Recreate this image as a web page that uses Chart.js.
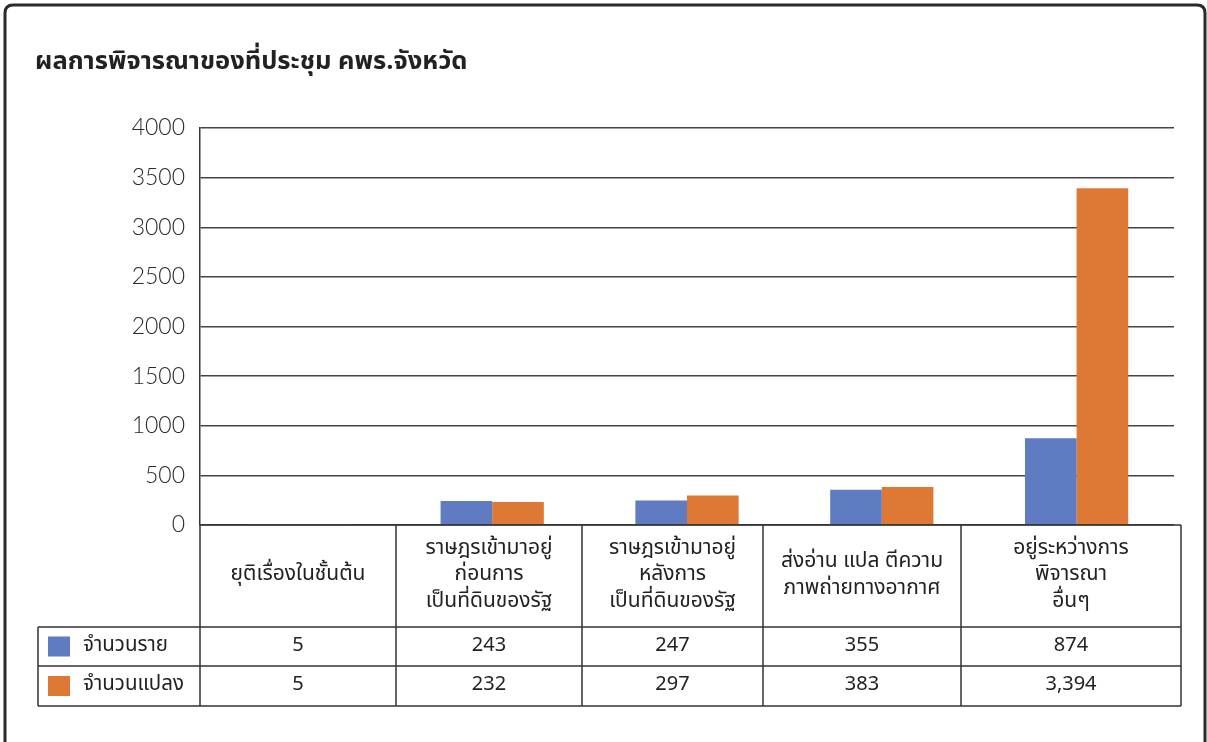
<!DOCTYPE html>
<html>
<head>
<meta charset="utf-8">
<script src="https://cdn.jsdelivr.net/npm/chart.js@4.4.0/dist/chart.umd.min.js"></script>
<style>
  html, body { margin: 0; padding: 0; background: #fff; }
  #wrap { width: 1207px; height: 742px; position: relative; }
</style>
</head>
<body>
<div id="wrap"><canvas id="c" width="1207" height="742"></canvas></div>
<script>
const title = 'ผลการพิจารณาของที่ประชุม คพร.จังหวัด';
const categories = [
  ['ยุติเรื่องในชั้นต้น'],
  ['ราษฎรเข้ามาอยู่', 'ก่อนการ', 'เป็นที่ดินของรัฐ'],
  ['ราษฎรเข้ามาอยู่', 'หลังการ', 'เป็นที่ดินของรัฐ'],
  ['ส่งอ่าน แปล ตีความ', 'ภาพถ่ายทางอากาศ'],
  ['อยู่ระหว่างการ', 'พิจารณา', 'อื่นๆ']
];
const seriesNames = ['จำนวนราย', 'จำนวนแปลง'];
const casesValues = [5, 243, 247, 355, 874];
const plotsValues = [5, 232, 297, 383, 3394];
const yTicks = [0, 500, 1000, 1500, 2000, 2500, 3000, 3500, 4000];

const colors = ['#5F7BC1', '#DD7835'];
const thaiFont = '"Noto Sans Thai", "Noto Sans", Tahoma, sans-serif';
const numFont = 'Lato, "Noto Sans", sans-serif';
// table layout (pixels)
const tableLayout = {
  colEdges: [200, 396, 582, 763, 961, 1181],
  legendLeft: 38,
  headerBottom: 627,
  rowBottoms: [666, 706]
};

const tablePlugin = {
  id: 'tablePlugin',
  beforeDraw(chart) {
    const ctx = chart.ctx;
    ctx.save();
    ctx.fillStyle = '#fff';
    ctx.fillRect(0, 0, chart.width, chart.height);
    ctx.strokeStyle = '#2a2a2a';
    ctx.lineWidth = 3;
    ctx.beginPath();
    const r = 8, x0 = 5, y0 = 5, x1 = 1205, y1 = 800;
    ctx.moveTo(x0, y1);
    ctx.lineTo(x0, y0 + r);
    ctx.quadraticCurveTo(x0, y0, x0 + r, y0);
    ctx.lineTo(x1 - r, y0);
    ctx.quadraticCurveTo(x1, y0, x1, y0 + r);
    ctx.lineTo(x1, y1);
    ctx.stroke();
    ctx.fillStyle = '#222';
    ctx.font = 'bold 25.5px ' + thaiFont;
    ctx.textAlign = 'left';
    ctx.textBaseline = 'middle';
    ctx.fillText(title, 35, 64);
    ctx.restore();
  },
  afterDraw(chart) {
    const ctx = chart.ctx;
    const area = chart.chartArea;
    const L = tableLayout;
    const top = area.bottom;
    const e = L.colEdges;
    const bottom = L.rowBottoms[L.rowBottoms.length - 1];
    ctx.save();
    ctx.strokeStyle = '#333';
    ctx.lineWidth = 1.5;
    ctx.beginPath();
    ctx.moveTo(e[0], top); ctx.lineTo(e[e.length - 1], top);
    ctx.moveTo(L.legendLeft, L.headerBottom); ctx.lineTo(e[e.length - 1], L.headerBottom);
    L.rowBottoms.forEach(y => { ctx.moveTo(L.legendLeft, y); ctx.lineTo(e[e.length - 1], y); });
    e.forEach(x => { ctx.moveTo(x, top); ctx.lineTo(x, bottom); });
    ctx.moveTo(L.legendLeft, L.headerBottom); ctx.lineTo(L.legendLeft, bottom);
    ctx.stroke();

    ctx.fillStyle = '#222';
    ctx.textAlign = 'center';
    ctx.textBaseline = 'middle';
    ctx.font = '21px ' + thaiFont;
    const lh = 26.5;
    chart.data.labels.forEach((lines, i) => {
      const cx = (e[i] + e[i + 1]) / 2;
      const cy = (top + L.headerBottom) / 2;
      const n = lines.length;
      lines.forEach((t, j) => {
        ctx.fillText(t, cx, cy + (j - (n - 1) / 2) * lh);
      });
    });

    const rowTops = [L.headerBottom].concat(L.rowBottoms.slice(0, -1));
    chart.data.datasets.forEach((ds, k) => {
      const yT = rowTops[k], yB = L.rowBottoms[k];
      const cy = (yT + yB) / 2;
      ctx.fillStyle = ds.backgroundColor;
      ctx.fillRect(48, cy - 10, 22, 20);
      ctx.fillStyle = '#222';
      ctx.textAlign = 'left';
      ctx.font = '20.5px ' + thaiFont;
      ctx.fillText(ds.label, 83, cy);
      ctx.textAlign = 'center';
      ctx.font = '20px ' + thaiFont;
      ds.data.forEach((v, i) => {
        const cx = (e[i] + e[i + 1]) / 2;
        ctx.fillText(v.toLocaleString('en-US'), cx, cy);
      });
    });
    ctx.restore();
  }
};

new Chart(document.getElementById('c'), {
  type: 'bar',
  data: {
    labels: categories,
    datasets: [
      { label: seriesNames[0], data: casesValues, backgroundColor: colors[0] },
      { label: seriesNames[1], data: plotsValues, backgroundColor: colors[1] }
    ]
  },
  options: {
    responsive: false,
    animation: false,
    devicePixelRatio: 1,
    layout: { padding: { left: 0, right: 33, top: 128, bottom: 217 } },
    plugins: { legend: { display: false }, tooltip: { enabled: false }, title: { display: false } },
    datasets: { bar: { categoryPercentage: 0.53, barPercentage: 1.0 } },
    scales: {
      x: { display: false },
      y: {
        min: 0, max: 4000,
        afterFit(scale) { scale.width = 200; },
        afterBuildTicks(scale) { scale.ticks = yTicks.map(v => ({ value: v })); },
        grid: { color: '#444', lineWidth: 1.5, drawTicks: false },
        border: { display: true, color: '#333', width: 1.5 },
        ticks: {
          padding: 15,
          color: '#2a2a2a',
          font: { family: numFont, size: 23, weight: '300' },
          callback: (v) => String(v)
        }
      }
    }
  },
  plugins: [tablePlugin]
});
</script>
</body>
</html>
